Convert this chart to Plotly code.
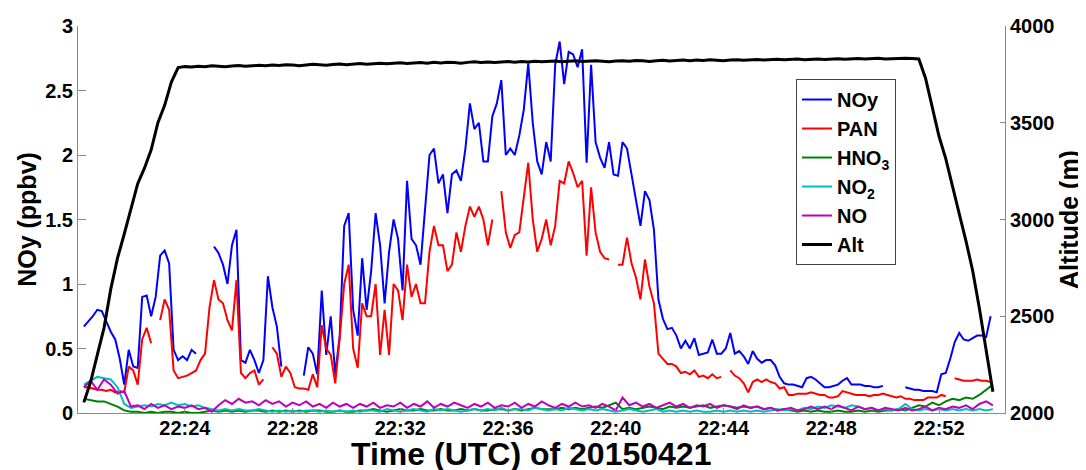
import plotly.graph_objects as go
import pandas as pd

# ---------------- data ----------------
t_start = "2015-04-21 22:20:15"
fast_step_s = 10   # NOy, PAN sampling
slow_step_s = 15   # HNO3, NO2, NO, Alt sampling

noy = [
    0.67, 0.71, 0.75, 0.80, 0.79, 0.71, 0.63, 0.57, 0.42, 0.22,
    0.49, 0.36, 0.35, 0.90, 0.91, 0.75, 0.90, 1.22, 1.26, 1.16,
    0.49, 0.41, 0.44, 0.41, 0.49, 0.46, None, None, None, 1.29,
    1.24, 1.15, 1.00, 1.30, 1.42, 0.41, 0.39, 0.49, 0.41, 0.31,
    0.41, 1.06, 0.82, 0.67, 0.36, None, None, None, None, 0.29,
    0.51, 0.46, 0.30, 0.95, 0.45, 0.75, 0.30, 0.60, 1.45, 1.55,
    0.80, 0.60, 1.20, 0.80, 1.10, 1.55, 1.30, 0.85, 1.25, 1.50,
    1.35, 0.95, 1.80, 1.35, 1.30, 1.15, 1.55, 2.00, 2.05, 1.78,
    1.85, 1.55, 1.85, 1.88, 1.80, 2.05, 2.40, 2.20, 2.25, 1.95,
    1.95, 2.30, 2.40, 2.58, 2.00, 2.05, 2.00, 2.15, 2.35, 2.71,
    2.25, 1.95, 1.85, 2.10, 1.95, 2.70, 2.88, 2.55, 2.80, 2.78,
    2.68, 2.82, 1.94, 2.70, 2.10, 1.98, 1.90, 2.10, 1.85, 1.84,
    2.10, 2.05, 1.85, 1.65, 1.45, 1.72, 1.65, 1.42, 0.88, 0.73,
    0.65, 0.66, 0.60, 0.50, 0.56, 0.50, 0.58, 0.45, 0.46, 0.47,
    0.57, 0.46, 0.46, 0.50, 0.62, 0.46, 0.48, 0.44, 0.38, 0.48,
    0.42, 0.39, 0.41, 0.41, 0.37, 0.28, 0.23, 0.22, 0.22, 0.21,
    0.20, 0.27, 0.28, 0.26, 0.23, 0.20, 0.20, 0.21, 0.22, 0.25,
    0.27, 0.22, 0.22, 0.22, 0.21, 0.21, 0.20, 0.20, 0.21, None,
    None, None, None, 0.20, 0.19, 0.18, 0.18, 0.17, 0.17, 0.17,
    0.16, 0.30, 0.31, 0.42, 0.55, 0.62, 0.57, 0.56, 0.58, 0.60,
    0.60, 0.59, 0.75,
]

pan = [
    0.20, 0.20, 0.19, 0.18, 0.18, 0.17, 0.18, 0.16, 0.17, 0.16,
    0.36, 0.33, 0.22, 0.57, 0.66, 0.54, None, 0.72, 0.88, 0.80,
    0.33, 0.27, 0.28, 0.29, 0.31, 0.33, 0.41, 0.46, 0.82, 1.03,
    0.88, 0.85, 0.72, 0.64, 1.03, 0.31, 0.27, 0.31, 0.33, 0.22,
    0.26, None, 0.51, 0.46, 0.28, 0.36, 0.31, 0.20, 0.19, 0.19,
    0.18, 0.30, 0.20, 0.68, 0.50, 0.45, 0.23, 0.58, 1.00, 1.15,
    0.50, 0.35, 0.85, 0.75, 0.75, 1.00, 0.45, 0.80, 0.45, 1.00,
    0.95, 0.72, 1.15, 0.90, 1.00, 0.85, 0.85, 1.25, 1.45, 1.30,
    1.30, 1.10, 1.15, 1.40, 1.25, 1.45, 1.60, 1.52, 1.60, 1.50,
    1.30, 1.50, None, 1.72, 1.40, 1.28, 1.38, 1.40, 1.65, 1.94,
    1.50, 1.25, 1.35, 1.50, 1.30, 1.45, 1.80, 1.78, 1.95, 1.86,
    1.75, 1.80, 1.22, 1.75, 1.40, 1.25, 1.20, 1.19, None, 1.15,
    1.15, 1.36, 1.16, 1.05, 0.88, 1.19, 0.98, 0.85, 0.46, 0.42,
    0.38, 0.38, 0.36, 0.31, 0.32, 0.30, 0.33, 0.28, 0.29, 0.27,
    0.30, 0.27, 0.28, None, 0.33, 0.29, 0.27, 0.23, 0.16, 0.24,
    0.26, 0.24, 0.26, 0.24, 0.23, 0.19, 0.20, 0.14, 0.14, 0.15,
    0.15, 0.15, 0.16, 0.15, 0.14, 0.14, 0.12, 0.12, 0.13, 0.17,
    0.16, 0.15, 0.14, 0.14, 0.14, 0.13, 0.14, 0.14, 0.15, 0.14,
    0.13, 0.12, 0.13, 0.11, 0.11, 0.10, 0.10, 0.10, 0.12, 0.12,
    0.12, 0.14, 0.13, None, 0.27, 0.26, 0.25, 0.25, 0.25, 0.26,
    0.25, 0.25, 0.24,
]

hno3 = [
    0.11, 0.10, 0.09, 0.09, 0.07, 0.05, 0.02, 0.01, 0.01, 0.00,
    0.01, 0.00, 0.01, 0.01, 0.00, 0.01, 0.00, 0.00, 0.01, 0.02,
    0.01, 0.02, 0.01, 0.02, 0.01, 0.02, 0.02, 0.01, 0.02, 0.01,
    0.02, 0.01, 0.02, 0.01, 0.02, 0.02, 0.01, 0.01, 0.02, 0.01,
    0.01, 0.02, 0.02, 0.03, 0.02, 0.01, 0.02, 0.03, 0.02, 0.02,
    0.03, 0.02, 0.02, 0.03, 0.02, 0.02, 0.03, 0.02, 0.03, 0.02,
    0.02, 0.03, 0.03, 0.02, 0.03, 0.02, 0.03, 0.04, 0.03, 0.03,
    0.03, 0.04, 0.03, 0.04, 0.03, 0.04, 0.05, 0.04, 0.06, 0.08,
    0.03, 0.04, 0.03, 0.04, 0.05, 0.04, 0.03, 0.05, 0.04, 0.05,
    0.04, 0.05, 0.06, 0.04, 0.05, 0.06, 0.05, 0.04, 0.05, 0.04,
    0.05, 0.03, 0.04, 0.02, 0.03, 0.02, 0.01, 0.02, 0.01, 0.02,
    0.01, 0.01, 0.02, 0.01, 0.01, 0.02, 0.01, 0.02, 0.01, 0.02,
    0.02, 0.03, 0.02, 0.04, 0.06, 0.05, 0.08, 0.06, 0.09, 0.11,
    0.10, 0.12, 0.11, 0.14, 0.18, 0.22,
]

no2 = [
    0.22, 0.25, 0.28, 0.27, 0.26, 0.20, 0.07, 0.04, 0.05, 0.06,
    0.05, 0.07, 0.06, 0.08, 0.06, 0.07, 0.05, 0.06, 0.04, 0.03,
    0.02, 0.03, 0.02, 0.03, 0.02, 0.02, 0.03, 0.02, 0.01, 0.02,
    0.01, 0.02, 0.01, 0.02, 0.02, 0.01, 0.02, 0.01, 0.02, 0.01,
    0.02, 0.01, 0.02, 0.02, 0.01, 0.03, 0.02, 0.01, 0.02, 0.03,
    0.02, 0.01, 0.03, 0.02, 0.03, 0.02, 0.01, 0.02, 0.03, 0.02,
    0.03, 0.02, 0.04, 0.02, 0.03, 0.03, 0.02, 0.04, 0.03, 0.02,
    0.03, 0.02, 0.04, 0.03, 0.02, 0.03, 0.02, 0.03, 0.02, 0.01,
    0.02, 0.03, 0.02, 0.01, 0.02, 0.03, 0.01, 0.02, 0.01, 0.02,
    0.01, 0.02, 0.01, 0.01, 0.02, 0.01, 0.02, 0.01, 0.02, 0.01,
    0.02, 0.01, 0.02, 0.03, 0.02, 0.03, 0.02, 0.04, 0.03, 0.05,
    0.04, 0.06, 0.05, 0.04, 0.06, 0.05, 0.03, 0.04, 0.02, 0.03,
    0.02, 0.03, 0.07, 0.03, 0.02, 0.03, 0.02, 0.03, 0.02, 0.03,
    0.02, 0.03, 0.02, 0.03, 0.02, 0.03,
]

no = [
    0.20, 0.25, 0.18, 0.26, 0.22, 0.15, 0.17, 0.05, 0.06, 0.03,
    0.07, 0.04, 0.06, 0.03, 0.05, 0.04, 0.06, 0.03, 0.04, 0.01,
    0.06, 0.10, 0.07, 0.11, 0.08, 0.09, 0.06, 0.10, 0.07, 0.09,
    0.05, 0.08, 0.06, 0.09, 0.05, 0.07, 0.04, 0.08, 0.05, 0.07,
    0.04, 0.07, 0.05, 0.08, 0.04, 0.06, 0.05, 0.08, 0.04, 0.07,
    0.05, 0.09, 0.04, 0.07, 0.05, 0.08, 0.06, 0.04, 0.07, 0.05,
    0.08, 0.04, 0.06, 0.05, 0.08, 0.04, 0.07, 0.05, 0.09, 0.06,
    0.04, 0.07, 0.05, 0.08, 0.05, 0.06, 0.04, 0.07, 0.05, 0.02,
    0.12, 0.06, 0.08, 0.05, 0.07, 0.04, 0.06, 0.08, 0.05, 0.07,
    0.04, 0.06, 0.05, 0.07, 0.04, 0.06, 0.05, 0.03, 0.06, 0.04,
    0.05, 0.03, 0.04, 0.02, 0.03, 0.04, 0.02, 0.03, 0.05, 0.03,
    0.05, 0.03, 0.06, 0.04, 0.02, 0.05, 0.03, 0.04, 0.02, 0.04,
    0.03, 0.02, 0.04, 0.02, 0.03, 0.05, 0.02, 0.04, 0.03, 0.05,
    0.04, 0.06, 0.03, 0.07, 0.09, 0.06,
]

alt = [
    2055, 2160, 2300, 2440, 2640, 2800, 2925, 3060, 3185, 3265,
    3360, 3500, 3590, 3710, 3785, 3790, 3788, 3792, 3790, 3794,
    3791, 3789, 3793, 3796, 3792, 3795, 3797, 3794, 3798, 3796,
    3800, 3798, 3795, 3799, 3802, 3800, 3797, 3801, 3804, 3800,
    3803, 3806, 3802, 3805, 3808, 3805, 3807, 3810, 3806, 3809,
    3811, 3808, 3812, 3809, 3813, 3811, 3808, 3812, 3815, 3811,
    3814, 3812, 3815, 3817, 3813, 3816, 3814, 3818, 3815, 3817,
    3819, 3815, 3818, 3820, 3816, 3819, 3821, 3818, 3815, 3819,
    3821, 3818, 3822, 3820, 3817, 3821, 3823, 3819, 3822, 3824,
    3821, 3824, 3822, 3825, 3823, 3820, 3824, 3826, 3823, 3825,
    3827, 3824, 3826, 3828, 3825, 3827, 3829, 3826, 3828, 3830,
    3827, 3829, 3831, 3828, 3830, 3832, 3829, 3831, 3833, 3830,
    3832, 3831, 3833, 3832, 3830, 3730, 3580, 3430, 3315, 3180,
    3030, 2890, 2735, 2540, 2330, 2110,
]

tick_labels = ["22:24", "22:28", "22:32", "22:36", "22:40", "22:44", "22:48", "22:52"]
x_range = ["2015-04-21 22:20:02", "2015-04-21 22:54:27"]

t_fast = pd.date_range(t_start, periods=len(noy), freq=f"{fast_step_s}s")
t_slow = pd.date_range(t_start, periods=len(hno3), freq=f"{slow_step_s}s")
tick_vals = [f"2015-04-21 {lab}:00" for lab in tick_labels]

# ---------------- figure ----------------
FONT = "Liberation Sans, Arial, sans-serif"
AX = "#8a8a8a"

fig = go.Figure()
fig.add_trace(go.Scatter(x=t_fast, y=noy, name="NOy", mode="lines",
                         line=dict(color="#0000FF", width=2)))
fig.add_trace(go.Scatter(x=t_fast, y=pan, name="PAN", mode="lines",
                         line=dict(color="#FF0000", width=2)))
fig.add_trace(go.Scatter(x=t_slow, y=hno3, name="HNO<sub>3</sub>", mode="lines",
                         line=dict(color="#008000", width=2)))
fig.add_trace(go.Scatter(x=t_slow, y=no2, name="NO<sub>2</sub>", mode="lines",
                         line=dict(color="#00BFBF", width=2)))
fig.add_trace(go.Scatter(x=t_slow, y=no, name="NO", mode="lines",
                         line=dict(color="#BF00BF", width=2)))
fig.add_trace(go.Scatter(x=t_slow, y=alt, name="Alt", mode="lines", yaxis="y2",
                         line=dict(color="#000000", width=3)))

fig.update_layout(
    width=1086, height=470,
    margin=dict(l=70, r=89, t=18, b=65),
    paper_bgcolor="white", plot_bgcolor="white",
    font=dict(family=FONT, color="black", size=20, weight="bold"),
    showlegend=True,
    legend=dict(x=0.7745, y=0.863, xanchor="left", yanchor="top",
                bgcolor="white", bordercolor="#444444", borderwidth=1,
                font=dict(family=FONT, size=20, color="black", weight="bold"),
                itemwidth=30, tracegroupgap=0),
    xaxis=dict(type="date", range=x_range, tickvals=tick_vals, ticktext=tick_labels,
               showline=True, linecolor=AX, linewidth=1, mirror=False,
               ticks="inside", ticklen=5, tickcolor=AX, showgrid=False, zeroline=False,
               ticklabelstandoff=-3,
               tickfont=dict(family=FONT, size=20, color="black", weight="bold"),
               automargin=False),
    yaxis=dict(range=[0, 3], tickvals=[0, 0.5, 1, 1.5, 2, 2.5, 3],
               ticktext=["0", "0.5", "1", "1.5", "2", "2.5", "3"],
               showline=True, linecolor=AX, linewidth=1,
               ticks="inside", ticklen=8, tickcolor=AX, showgrid=False, zeroline=False,
               tickfont=dict(family=FONT, size=20, color="black", weight="bold"),
               title=dict(text="NOy (ppbv)", standoff=1,
                          font=dict(family=FONT, size=25, color="black", weight="bold")),
               automargin=False),
    yaxis2=dict(range=[2000, 4000], tickvals=[2000, 2500, 3000, 3500, 4000],
                ticktext=["2000", "2500", "3000", "3500", "4000"],
                overlaying="y", side="right",
                showline=True, linecolor=AX, linewidth=1,
                ticks="inside", ticklen=5, tickcolor=AX, showgrid=False, zeroline=False,
                tickfont=dict(family=FONT, size=20, color="black", weight="bold"),
                title=dict(text="Altitude (m)", standoff=3,
                           font=dict(family=FONT, size=25, color="black", weight="bold")),
                automargin=False),
    annotations=[dict(text="Time (UTC) of 20150421", xref="paper", yref="paper",
                      x=0.4887, y=-0.106, xanchor="center", yanchor="middle",
                      showarrow=False,
                      font=dict(family=FONT, size=32, color="black", weight="bold"))],
)

fig.write_html("out.html")
